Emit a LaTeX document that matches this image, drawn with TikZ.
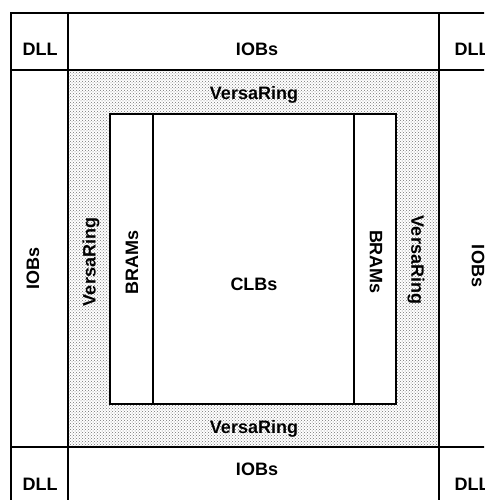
\documentclass[tikz,border=0pt]{standalone}
\usepackage{fontspec}
\setmainfont{Liberation Sans}
\usetikzlibrary{patterns}

\begin{document}
\begin{tikzpicture}[x=1pt,y=-1pt,
		lbl/.style={font=\fontsize{18}{20}\selectfont\bfseries, inner sep=1pt},
		ring/.style={pattern=crosshatch dots, pattern color=black!55}]
			
			\useasboundingbox (0,0) rectangle (484,500);
			\clip (0,0) rectangle (484,500);
			
			% Outer frame and IOB / DLL grid
			\draw[line width=1.6pt] (11,13) rectangle (520,530);
			\draw[line width=1.4pt] (11,70) -- (520,70);
			\draw[line width=1.4pt] (11,447) -- (520,447);
			\draw[line width=1.4pt] (68,13) -- (68,530);
			\draw[line width=1.4pt] (439,13) -- (439,530);
			
			% VersaRing band
			\fill[ring] (68,70) rectangle (439,447);
			\draw[line width=1.4pt] (68,70) rectangle (439,447);
			
			% Core with BRAM columns
			\draw[line width=1.3pt, fill=white] (110,114) rectangle (396,404);
			\draw[line width=1.3pt] (153,114) -- (153,404);
			\draw[line width=1.3pt] (354,114) -- (354,404);
			
			% Corner labels
			\node[lbl] (dllTL) at (40,49) {DLL};
			\node[lbl] (dllTR) at (472,49) {DLL};
			\node[lbl] (dllBL) at (40,484) {DLL};
			\node[lbl] (dllBR) at (472,484) {DLL};
			
			% IOB labels
			\node[lbl] (iobT) at (257,49) {IOBs};
			\node[lbl] (iobB) at (257,469) {IOBs};
			\node[lbl, rotate=90] (iobL) at (33,268) {IOBs};
			\node[lbl, rotate=-90] (iobR) at (478,266) {IOBs};
			
			% VersaRing labels
			\node[lbl] (ringT) at (254,95) {VersaRing};
			\node[lbl] (ringB) at (254,429) {VersaRing};
			\node[lbl, rotate=90] (ringL) at (91,262) {VersaRing};
			\node[lbl, rotate=-90] (ringR) at (416,260) {VersaRing};
			
			% Core labels
			\node[lbl, rotate=90] (bramL) at (132,262) {BRAMs};
			\node[lbl, rotate=-90] (bramR) at (376,262) {BRAMs};
			\node[lbl] (clb) at (254,284) {CLBs};
			
		\end{tikzpicture}
\end{document}
